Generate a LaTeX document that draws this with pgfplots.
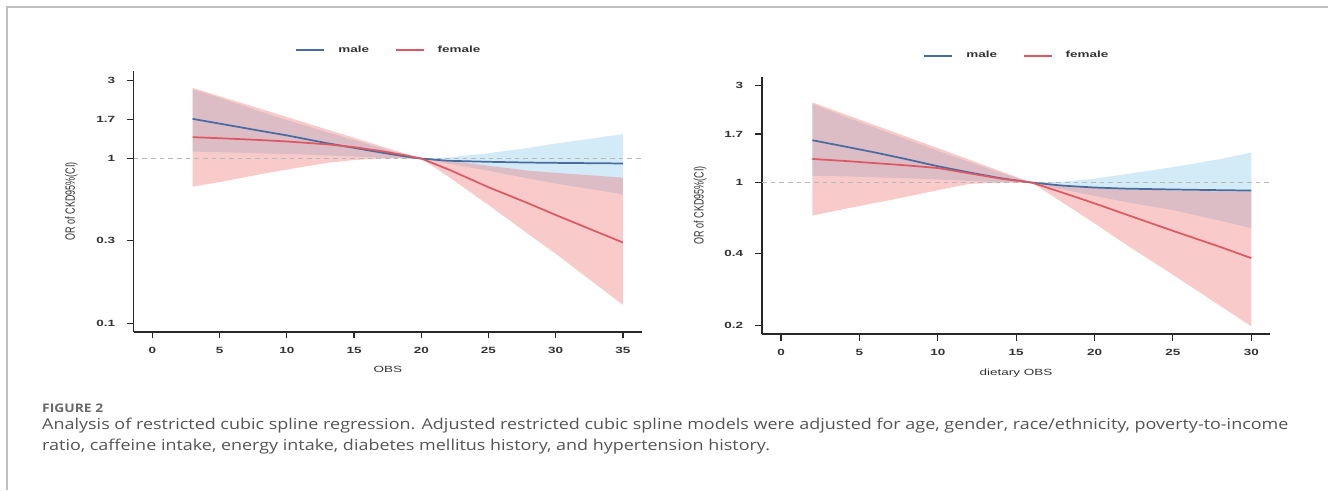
\documentclass[border=0pt]{standalone}
\usepackage{fontspec}
\usepackage{graphicx}
\usepackage{pgfplots}
\pgfplotsset{compat=1.18}
\usepackage{pgfplotstable}
\usepgfplotslibrary{fillbetween}
\setmainfont{Liberation Sans}
\newfontfamily\chartfont{Liberation Sans}[FakeStretch=1.5]
\newfontfamily\ylabfontfam{Liberation Sans}
\newfontfamily\capfont{Open Sans}
\newcommand\cf{\chartfont\fontsize{6.75bp}{8bp}\selectfont}
\newcommand\cfb{\chartfont\bfseries\fontsize{6.75bp}{8bp}\selectfont}
\definecolor{maleline}{RGB}{72,108,160}
\definecolor{femaleline}{RGB}{221,88,98}
\definecolor{maleband}{RGB}{211,234,247}
\definecolor{femaleband}{RGB}{236,109,109}
\definecolor{refdash}{RGB}{185,185,185}
\definecolor{framecol}{RGB}{190,190,190}
\definecolor{captext}{RGB}{85,85,85}
\definecolor{figtext}{RGB}{105,105,105}
\definecolor{axiscol}{RGB}{40,40,40}

\pgfplotstableread{
x mline mlo mhi fline flo fhi
3 1.744 1.103 2.638 1.350 0.676 2.691
5 1.632 1.094 2.340 1.330 0.719 2.394
8 1.477 1.078 1.935 1.297 0.803 2.014
10 1.384 1.067 1.716 1.271 0.857 1.790
13 1.240 1.046 1.448 1.221 0.942 1.502
15 1.162 1.030 1.297 1.174 0.980 1.338
17 1.089 1.012 1.162 1.111 1.000 1.191
19 1.025 1.000 1.041 1.041 1.005 1.060
20 1 1 1 1 1 1
22 0.970 0.932 1.015 0.861 0.779 0.970
25 0.956 0.844 1.078 0.670 0.522 0.905
28 0.946 0.756 1.162 0.533 0.346 0.844
30 0.942 0.705 1.234 0.454 0.264 0.819
35 0.934 0.607 1.408 0.309 0.129 0.766
}\obs

\pgfplotstableread{
x mline mlo mhi fline flo fhi
2 1.614 1.079 2.435 1.306 0.689 2.477
4 1.507 1.073 2.117 1.278 0.741 2.175
6 1.405 1.062 1.859 1.246 0.795 1.912
8 1.303 1.051 1.632 1.215 0.852 1.679
10 1.203 1.036 1.433 1.179 0.918 1.476
12 1.122 1.020 1.265 1.111 0.985 1.296
14 1.051 1.005 1.116 1.046 1.000 1.139
16 1 1 1 1 1 1
18 0.966 0.923 1.010 0.891 0.795 0.961
20 0.946 0.861 1.046 0.791 0.631 0.942
22 0.934 0.803 1.100 0.698 0.497 0.928
25 0.925 0.733 1.191 0.580 0.353 0.914
28 0.918 0.651 1.303 0.484 0.249 0.905
30 0.914 0.598 1.404 0.426 0.197 0.905
}\dobs

\pgfplotsset{
  legend image code/.code={\draw[#1] (0bp,0bp) -- (21bp,0bp);},
  every axis legend/.append style={at={(0.5,1)}, anchor=center, yshift=15.75bp, draw=none, fill=none,
    font=\cfb, text=black!80, inner sep=0pt, nodes={inner sep=0pt},
    /tikz/every odd column/.append style={column sep=9.75bp},
    /tikz/every even column/.append style={column sep=19.5bp}},
}

\newsavebox\capline
\newcommand\capsize{\capfont\fontsize{11.25bp}{14bp}\selectfont}

\begin{document}
\sbox\capline{\color{captext}\capsize Analysis of restricted cubic spline regression. Adjusted restricted cubic spline models were adjusted for age, gender, race/ethnicity, poverty-to-income}%
\pgfmathsetmacro\capfac{935.25bp/\wd\capline}%
\begin{tikzpicture}[x=0.75bp,y=0.75bp]
\path (0,0) rectangle (1329,490);
\draw[framecol, line width=1.4bp] (7,0) -- (7,483) -- (1329,483);

% ---------- left panel ----------
\begin{axis}[at={(100.35bp,118.5bp)}, anchor=south west,
  scale only axis, ymode=log,
  axis x line*=bottom, axis y line*=left,
  axis line style={line width=1.1bp, axiscol},
  tick align=outside, major tick length=5bp,
  tick style={line width=0.8bp, axiscol},
  yminorticks=false,
  tick label style={font=\cfb, text=black!80},
  /pgf/number format/assume math mode=true,
  xticklabel style={yshift=-3bp},
  yticklabel style={xshift=-5.5bp},
  legend columns=2,
  width=381.75bp, height=195.75bp,
  xmin=-1.38, xmax=36.44, ymin=0.0886, ymax=3.41,
  xtick={0,5,10,15,20,25,30,35},
  ytick={0.1,0.31623,1,1.73205,3}, yticklabels={0.1,0.3,1,1.7,3}]
\addplot[name path=mhi, draw=none, forget plot] table[x=x,y=mhi]{\obs};
\addplot[name path=mlo, draw=none, forget plot] table[x=x,y=mlo]{\obs};
\addplot[fill=maleband, draw=none, forget plot] fill between[of=mhi and mlo];
\addplot[name path=fhi, draw=none, forget plot] table[x=x,y=fhi]{\obs};
\addplot[name path=flo, draw=none, forget plot] table[x=x,y=flo]{\obs};
\addplot[fill=femaleband, fill opacity=0.36, draw=none, forget plot] fill between[of=fhi and flo];
\addplot[refdash, line width=1.1bp, dash pattern=on 3.5bp off 3bp, forget plot] coordinates {(-1.38,1) (36.44,1)};
\addplot[maleline, line width=1.3bp] table[x=x,y=mline]{\obs};
\addplot[femaleline, line width=1.3bp] table[x=x,y=fline]{\obs};
\legend{male,female}
\end{axis}

% ---------- right panel ----------
\begin{axis}[at={(571.8bp,116.775bp)}, anchor=south west,
  scale only axis, ymode=log,
  axis x line*=bottom, axis y line*=left,
  axis line style={line width=1.1bp, axiscol},
  tick align=outside, major tick length=5bp,
  tick style={line width=0.8bp, axiscol},
  yminorticks=false,
  tick label style={font=\cfb, text=black!80},
  /pgf/number format/assume math mode=true,
  xticklabel style={yshift=-3bp},
  yticklabel style={xshift=-5.5bp},
  legend columns=2,
  width=381.45bp, height=193.2bp,
  xmin=-1.22, xmax=31.2, ymin=0.1807, ymax=3.31,
  xtick={0,5,10,15,20,25,30},
  ytick={0.2,0.44721,1,1.73205,3}, yticklabels={0.2,0.4,1,1.7,3}]
\addplot[name path=mhi, draw=none, forget plot] table[x=x,y=mhi]{\dobs};
\addplot[name path=mlo, draw=none, forget plot] table[x=x,y=mlo]{\dobs};
\addplot[fill=maleband, draw=none, forget plot] fill between[of=mhi and mlo];
\addplot[name path=fhi, draw=none, forget plot] table[x=x,y=fhi]{\dobs};
\addplot[name path=flo, draw=none, forget plot] table[x=x,y=flo]{\dobs};
\addplot[fill=femaleband, fill opacity=0.36, draw=none, forget plot] fill between[of=fhi and flo];
\addplot[refdash, line width=1.1bp, dash pattern=on 3.5bp off 3bp, forget plot] coordinates {(-1.22,1) (31.2,1)};
\addplot[maleline, line width=1.3bp] table[x=x,y=mline]{\dobs};
\addplot[femaleline, line width=1.3bp] table[x=x,y=fline]{\dobs};
\legend{male,female}
\end{axis}

% axis titles
\node[font=\cf, text=black!80] at (388.2,120.5) {OBS};
\node[font=\cf, text=black!80] at (1016.7,117) {dietary OBS};
\node[rotate=90, text=black!80] at (71.5,288.5) {\scalebox{1}[1.5]{\ylabfontfam\fontsize{6.75bp}{8bp}\selectfont OR of CKD95\%(CI)}};
\node[rotate=90, text=black!80] at (700.5,284.5) {\scalebox{1}[1.5]{\ylabfontfam\fontsize{6.75bp}{8bp}\selectfont OR of CKD95\%(CI)}};

% caption
\node[anchor=base west, inner sep=0pt, text=figtext] at (42,77) {\resizebox{45.75bp}{\height}{\capfont\bfseries\fontsize{8.9bp}{11bp}\selectfont FIGURE 2}};
\node[anchor=base west, inner sep=0pt] at (42,60) {\scalebox{\capfac}[1]{\usebox\capline}};
\node[anchor=base west, inner sep=0pt, text=captext] at (42,39) {\scalebox{\capfac}[1]{\capsize ratio, caffeine intake, energy intake, diabetes mellitus history, and hypertension history.}};
\end{tikzpicture}
\end{document}
